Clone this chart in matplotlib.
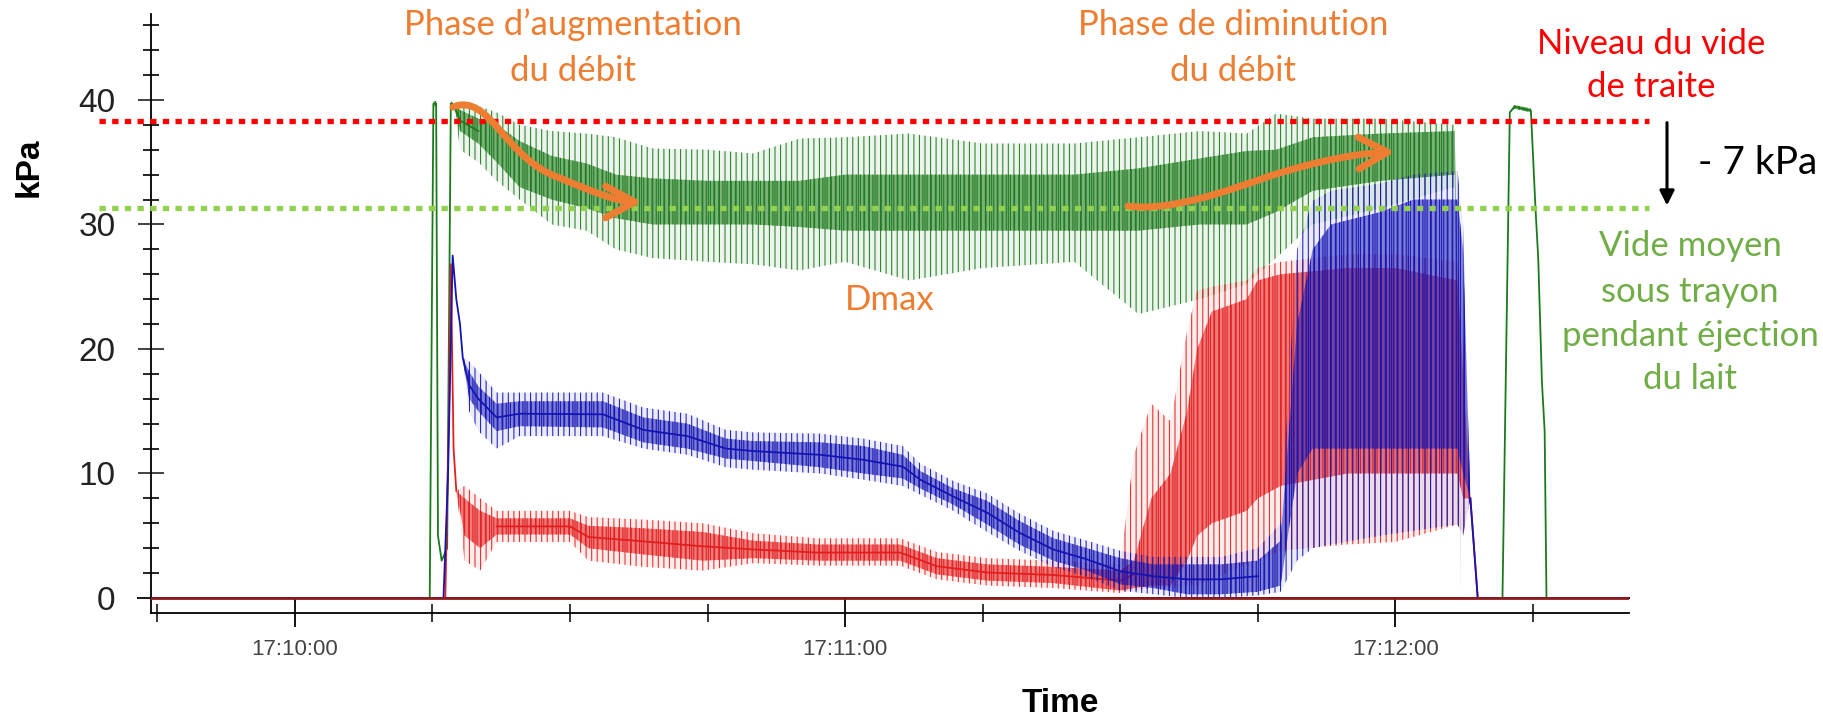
import numpy as np
import matplotlib
matplotlib.use("Agg")
import matplotlib.pyplot as plt
from matplotlib.path import Path
from matplotlib.patches import FancyArrowPatch
from matplotlib.ticker import MultipleLocator
from matplotlib.colors import to_rgba
from matplotlib import transforms

# --------------- données (secondes après 17:10:00, kPa) ---------------
# enveloppes : cœur dense (lo/hi) et pics (spike lo/hi)
green_t = [-15.7, 14.7, 14.9, 15.1, 15.4, 15.6, 16.0, 16.6, 17.0, 17.5, 18, 20, 22, 24.5, 28, 31.8,
           35, 39, 45, 50, 55, 60, 67, 75, 85, 92, 98.7, 103.8, 107, 111, 118.4, 126.5, 127.2,
           131.7, 132.5, 133, 134.8, 135.3, 135.6, 136.0, 136.3, 136.5, 145.5]
green_lo = [0, 0, 20, 39.5, 39.5, 5, 3, 4, 39.5, 39, 37.5, 36.5, 35, 33, 32, 31.3, 30.5, 30, 30, 30,
            29.8, 29.5, 29.5, 29.5, 29.5, 29.5, 30, 30, 31, 32.7, 33.5, 34, 0, 0, 39, 39.3, 39, 31.3,
            27.3, 17.4, 13.4, 0, 0]
green_hi = [0, 0, 20, 39.9, 39.9, 5, 3, 4, 39.9, 39.6, 39.2, 38.5, 38, 36.7, 35.5, 34.9, 34, 33.7,
            33.5, 33.5, 33.5, 34, 34, 34, 34, 34.5, 35.3, 35.9, 36, 37, 37.3, 37.5, 0, 0, 39, 39.6,
            39.3, 31.3, 27.3, 17.4, 13.4, 0, 0]
green_spike_lo = [0, 0, 20, 39.5, 39.5, 5, 3, 4, 39.5, 39, 36, 35, 33.5, 32, 30, 29.5, 28, 27.3, 27,
                  26.8, 26.3, 27, 25.5, 26.5, 27, 22.8, 24, 25.2, 27.3, 30, 31.3, 33, 0, 0, 39, 39.3,
                  39, 31.3, 27.3, 17.4, 13.4, 0, 0]
green_spike_hi = [0, 0, 20, 39.9, 39.9, 5, 3, 4, 39.9, 39.6, 39.8, 39.5, 39, 38, 37.5, 37.3, 37, 36.1,
                  36, 35.7, 36.9, 37, 37.3, 36.5, 36.5, 37, 37.5, 37.3, 38.9, 38.5, 38.5, 38, 0, 0,
                  39, 39.6, 39.3, 31.3, 27.3, 17.4, 13.4, 0, 0]

blue_t = [-15.7, 16.2, 16.7, 17.2, 17.6, 18.0, 18.3, 19, 20, 22, 24.5, 33.6, 38, 42.8, 47, 50, 57.3,
          62, 66.3, 68.2, 71.8, 75.5, 79, 82.7, 86.4, 90, 93.6, 97.3, 101, 105, 107.5, 109.3, 111,
          113, 118.4, 122, 126.8, 127.4, 128.2, 129, 145.5]
blue_lo = [0, 0, 10, 27.5, 24, 22, 19.3, 16, 15, 13.4, 13.8, 13.7, 12.5, 12, 11.2, 11, 10.5, 10, 9.6,
           8.8, 7.5, 5.9, 4.3, 3, 2.2, 1.1, 0.8, 0.3, 0.3, 0.5, 1, 10, 12, 12, 12, 12, 12, 10, 8, 0, 0]
blue_hi = [0, 0, 10, 27.5, 24, 22, 19.3, 18.2, 17, 15.6, 15.8, 15.8, 14.5, 14, 12.8, 12.6, 12.5, 12.2,
           11.5, 10.2, 8.8, 7.8, 6.2, 4.8, 4, 3.2, 2.7, 2.7, 2.7, 3, 4.6, 22, 28, 30, 31, 32, 32, 28,
           8, 0, 0]
blue_spike_lo = [0, 0, 10, 27.5, 24, 22, 19.3, 15, 13.4, 12, 13, 13, 12, 11.5, 10.5, 10.3, 10, 9.5, 9,
                 8.3, 7, 5.3, 3.8, 2.5, 1.7, 0.6, 0.3, 0, 0, 0.2, 0.5, 3, 4, 4.3, 5, 5.4, 5.9, 5, 8,
                 0, 0]
blue_spike_hi = [0, 0, 10, 27.5, 24, 22, 19.3, 19, 18.2, 16.5, 16.5, 16.5, 15.3, 14.8, 13.5, 13.3,
                 13.2, 12.8, 12.2, 10.8, 9.4, 8.4, 6.8, 5.4, 4.6, 3.8, 3.3, 3.3, 3.3, 4, 6, 28, 31.9,
                 32.7, 33.3, 34, 34.3, 30, 8, 0, 0]

red_t = [-15.7, 16.4, 16.8, 17.0, 17.3, 17.6, 18.5, 20.2, 22, 30, 32, 38, 44.5, 50, 57, 66, 70, 75.5,
         82.7, 90, 91.5, 93.4, 95.5, 97.3, 98.4, 100, 103.8, 105, 107.5, 114.8, 120, 126.8, 127.4,
         128.2, 129, 145.5]
red_lo = [0, 0, 15, 26.8, 12, 8.6, 5, 4, 5.1, 5.1, 4, 3.5, 3, 3.2, 3, 3, 1.9, 1.4, 1.2, 0.6, 0.8, 1,
          1, 3, 5, 6, 7, 8, 9, 10, 10, 10, 8, 8, 0, 0]
red_hi = [0, 0, 15, 26.8, 12, 8.6, 8, 7, 6.4, 6.4, 5.8, 5.6, 5.3, 4.6, 4.3, 4.3, 3.2, 2.7, 2.5, 2.2,
          3, 8, 10, 15, 20, 23, 24, 25.5, 26, 26.5, 26.5, 25.5, 18, 8, 0, 0]
red_spike_lo = [0, 0, 15, 26.8, 12, 8.6, 3, 2.2, 4.5, 4.5, 3, 2.5, 2.2, 2.8, 2.6, 2.6, 1.5, 1, 0.8,
                0.4, 0.6, 0.8, 0.8, 1, 1, 1.5, 2.7, 3, 3.8, 4.3, 4.5, 5.9, 5, 8, 0, 0]
red_spike_hi = [0, 0, 15, 26.8, 12, 8.6, 9, 8, 7, 7, 6.5, 6.3, 6, 5.2, 4.8, 4.8, 3.7, 3.2, 3, 2.7,
                11.5, 15.6, 14.2, 21.4, 24.7, 25, 25.5, 26.5, 27, 27.6, 27.6, 27, 21, 8, 0, 0]

vide_traite = 38.3   # niveau du vide de traite
vide_moyen = 31.3    # vide moyen sous trayon
time_ticks = [0, 60, 120]
time_labels = ["17:10:00", "17:11:00", "17:12:00"]
y_ticks = [0, 10, 20, 30, 40]

# --------------- figure ---------------
W, H = 1824, 721
plt.rcParams["hatch.linewidth"] = 0.8
fig = plt.figure(figsize=(W / 100, H / 100), dpi=100)
ax = fig.add_axes([151 / W, 1 - 612.7 / H, (1629 - 151) / W, (612.7 - 14) / H])
ax.set_xlim(-15.7, 145.5)
ax.set_ylim(-1.18, 46.9)


def fpos(x, y):
    # pixels (origine en haut à gauche) -> fraction de figure
    return x / W, 1 - y / H


# ligne du zéro (dépasse à gauche de l'axe)
ax.plot([-17.1, 145.5], [0, 0], color="black", lw=1.4, clip_on=False, zorder=1)


def trace(t, lo, hi, slo, shi, color, core_alpha, z):
    t = np.array(t)
    lo, hi = np.array(lo, float), np.array(hi, float)
    # pics : traits verticaux fins
    ax.fill_between(t, slo, shi, facecolor=to_rgba(color, 0.08), edgecolor=to_rgba(color, 0.9),
                    hatch="|||", lw=0, zorder=z)
    # cœur dense
    ax.fill_between(t, lo, hi, facecolor=to_rgba(color, core_alpha), edgecolor=to_rgba(color, 0.95),
                    hatch="||||", lw=0, zorder=z + 0.1)
    mid = np.where(hi - lo > 2.5, np.nan, (lo + hi) / 2)
    ax.plot(t, mid, color=color, lw=1.3, zorder=z + 0.2)


trace(green_t, green_lo, green_hi, green_spike_lo, green_spike_hi, "#1B7A1B", 0.55, 2)
trace(red_t, red_lo, red_hi, red_spike_lo, red_spike_hi, "#E41E1E", 0.55, 3)
trace(blue_t, blue_lo, blue_hi, blue_spike_lo, blue_spike_hi, "#1414B4", 0.5, 4)

# trait rouge foncé au zéro (traces au repos)
ax.plot([-15.7, 145.5], [0, 0], color="#8E1B1B", lw=2, zorder=5)

# --------------- axes ---------------
for s in ["top", "right"]:
    ax.spines[s].set_visible(False)
for s in ["left", "bottom"]:
    ax.spines[s].set_linewidth(1.3)
ax.set_yticks(y_ticks)
ax.yaxis.set_minor_locator(MultipleLocator(2))
ax.set_xticks(time_ticks)
ax.set_xticklabels(time_labels)
ax.xaxis.set_minor_locator(MultipleLocator(15))
ax.tick_params(axis="y", which="major", direction="inout", length=19, width=1.2, labelsize=24,
               pad=16, colors="#222222")
ax.tick_params(axis="y", which="minor", direction="inout", length=11, width=1.2)
ax.tick_params(axis="x", which="major", direction="inout", length=19.5, width=1.3, labelsize=16,
               pad=9, labelcolor="#444444")
ax.tick_params(axis="x", which="minor", direction="inout", length=13.5, width=1.1)
for lab in ax.get_xticklabels() + ax.get_yticklabels():
    lab.set_family("Liberation Sans")

fig.text(*fpos(29, 167), "kPa", rotation=90, ha="center", va="center", fontsize=24,
         fontweight="bold", family="Liberation Sans")
fig.text(*fpos(1060, 703), "Time", ha="center", va="center", fontsize=24,
         fontweight="bold", family="Liberation Sans")

# --------------- niveaux de vide ---------------
blend = transforms.blended_transform_factory(fig.transFigure, ax.transData)
for lvl, col in [(vide_traite, "#FF0000"), (vide_moyen, "#92D050")]:
    ax.plot([99 / W, 1649 / W], [lvl, lvl], transform=blend, color=col, lw=3.8,
            ls=(0, (1.2, 1.2)), solid_capstyle="butt", dash_capstyle="butt", clip_on=False,
            zorder=6)

ax.annotate("", xy=(1667 / W, vide_moyen), xytext=(1667 / W, vide_traite + 0.1),
            xycoords=blend, textcoords=blend,
            arrowprops=dict(arrowstyle="-|>", color="black", lw=2.2, mutation_scale=22))

# --------------- textes ---------------
orange = "#ED7D31"
font = "Lato"
txt = [
    ("Phase d’augmentation", 573, 25, orange),
    ("du débit", 573, 71, orange),
    ("Phase de diminution", 1233, 25, orange),
    ("du débit", 1233, 71, orange),
    ("Dmax", 890, 300, orange),
    ("Niveau du vide", 1651, 44, "#FF0000"),
    ("de traite", 1651, 87, "#FF0000"),
    ("Vide moyen", 1690, 246, "#70AD47"),
    ("sous trayon", 1690, 292, "#70AD47"),
    ("pendant éjection", 1690, 336, "#70AD47"),
    ("du lait", 1690, 379, "#70AD47"),
]
for s, x, y, c in txt:
    fig.text(*fpos(x, y), s, ha="center", va="center", fontsize=25, color=c, family=font)
fig.text(*fpos(1698, 163), "- 7 kPa", ha="left", va="center", fontsize=28, color="black",
         family=font)

# flèches orange courbes
def orange_arrow(pts):
    p = [fpos(x, y) for x, y in pts]
    codes = [Path.MOVETO] + [Path.CURVE4] * (len(p) - 1)
    arr = FancyArrowPatch(path=Path(p, codes), transform=fig.transFigure,
                          arrowstyle="->,head_length=0.7,head_width=0.38", mutation_scale=30,
                          color=orange, lw=5, capstyle="round", joinstyle="round", zorder=8)
    fig.add_artist(arr)


orange_arrow([(453, 107), (490, 92), (505, 160), (560, 178),
              (600, 195), (620, 202), (642, 202)])
orange_arrow([(1128, 206), (1170, 212), (1230, 190), (1270, 176),
              (1320, 160), (1360, 153), (1395, 152)])

fig.savefig("out.png", dpi=100)
